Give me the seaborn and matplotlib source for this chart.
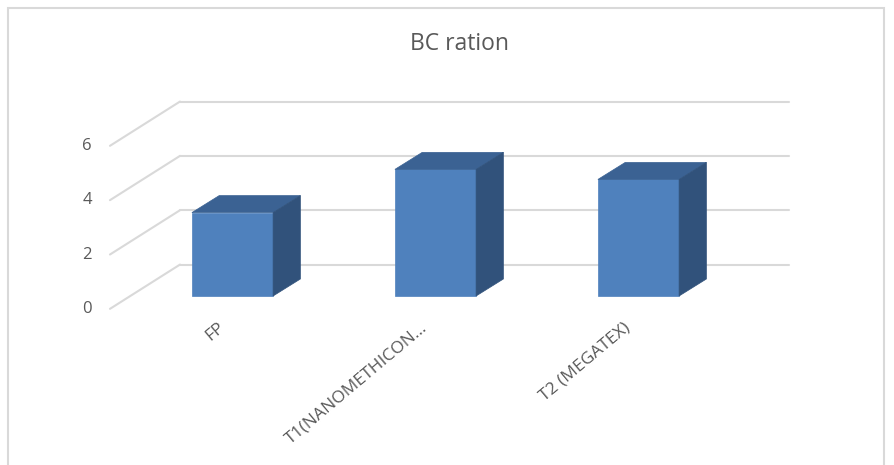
import matplotlib
matplotlib.use("Agg")
import matplotlib.pyplot as plt
from matplotlib.patches import Polygon, Rectangle
import seaborn as sns

# data
categories = ["FP", "T1(NANOMETHICON...", "T2 (MEGATEX)"]
values = [3.07, 4.66, 4.29]
ticks = [0, 2, 4, 6]
title = "BC ration"

FRONT = "#4F81BD"
TOP = "#3B6293"
SIDE = "#31527B"
GRID = "#D9D9D9"
TEXT = "#595959"

# oblique "3D" projection, in data units (x: category, y: value)
BAR_DX, BAR_DY = 0.1345, 0.626      # bar depth
FRONT_DX, FRONT_DY = -0.100, -0.473  # front floor edge vs bar plane
BACK_DX, BACK_DY = 0.245, 1.157      # back wall vs bar plane
WALL_LEFT, WALL_RIGHT = -0.2586, 2.741

sns.set_style("white")
plt.rcParams["font.family"] = ["Open Sans", "DejaVu Sans"]

fig = plt.figure(figsize=(8.94, 4.65), dpi=100)
ax = fig.add_axes([0, 0, 1, 1])

sns.barplot(x=categories, y=values, width=0.4, color=FRONT, saturation=1,
            edgecolor=FRONT, linewidth=0.5, ax=ax, zorder=3)

# back wall + side wall gridlines
for v in ticks:
    ax.plot([WALL_LEFT, WALL_RIGHT], [v + BACK_DY] * 2, color=GRID, lw=1.5, zorder=1)
    ax.plot([WALL_LEFT - (BACK_DX - FRONT_DX), WALL_LEFT],
            [v + FRONT_DY, v + BACK_DY], color=GRID, lw=1.5, zorder=1)
    ax.text(-0.692, v + FRONT_DY, str(v), ha="right", va="center",
            fontsize=12, color=TEXT)

# top and side faces of the columns
for bar in ax.patches[:len(values)]:
    x0, w, h = bar.get_x(), bar.get_width(), bar.get_height()
    x1 = x0 + w
    top = [(x0, h), (x1, h), (x1 + BAR_DX, h + BAR_DY), (x0 + BAR_DX, h + BAR_DY)]
    side = [(x1, 0), (x1 + BAR_DX, BAR_DY), (x1 + BAR_DX, h + BAR_DY), (x1, h)]
    ax.add_patch(Polygon(top, closed=True, facecolor=TOP, edgecolor=TOP, lw=0.5, zorder=3))
    ax.add_patch(Polygon(side, closed=True, facecolor=SIDE, edgecolor=SIDE, lw=0.5, zorder=3))

# category labels, rotated like the spreadsheet axis
for i, lab in enumerate(categories):
    ax.text(i - 0.05, -1.1, lab, rotation=40, rotation_mode="anchor",
            ha="right", va="center", fontsize=12.5, color=TEXT)

ax.set_xlim(-1.1453, 3.2586)
ax.set_ylim(-6.22, 10.894)
ax.set_axis_off()

fig.text(459 / 894, 1 - 44 / 465, title, ha="center", va="center", fontsize=16.5, color=TEXT)

# chart area border
fig.patches.append(Rectangle((8 / 894, -0.05), 876 / 894, 1.05 - 8 / 465,
                             transform=fig.transFigure, fill=False,
                             edgecolor=GRID, lw=1.5))

fig.savefig("out.png", dpi=100)
